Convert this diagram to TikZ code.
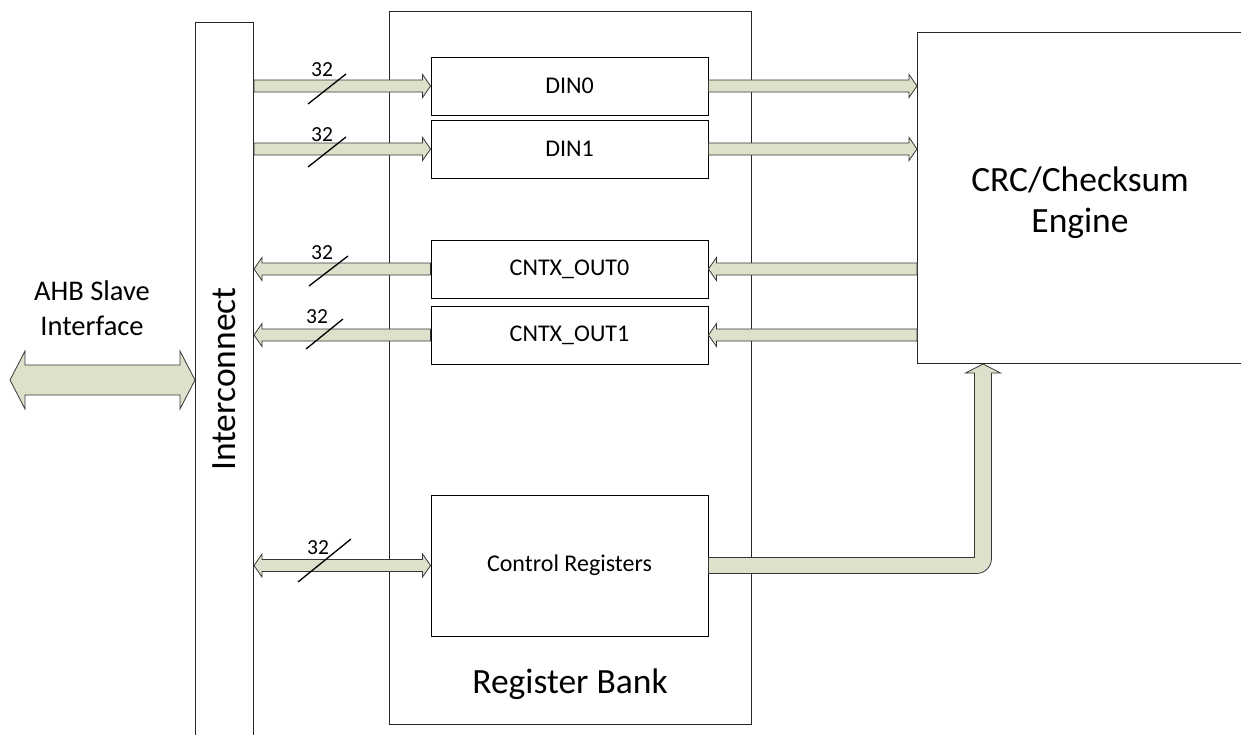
\documentclass[tikz,border=0pt]{standalone}
\usepackage{fontspec}
\setmainfont{Carlito}
\usetikzlibrary{calc}
\definecolor{busfill}{RGB}{221,224,203}
\definecolor{busline}{RGB}{55,55,55}
\tikzset{
  box/.style={draw=black, line width=0.9pt, inner sep=0pt, font=\fontsize{24}{29}\selectfont},
  frame/.style={draw=black!85, line width=1pt, inner sep=0pt},
  bus/.style={draw=busline, fill=busfill, line width=0.8pt, line join=miter},
  slash/.style={draw=black, line width=1.3pt},
  buslabel/.style={font=\fontsize{21.5}{25}\selectfont, inner sep=0pt},
  bigtext/.style={font=\fontsize{35.5}{41}\selectfont, align=center, inner sep=0pt},
}
% #1 tail, #2 tip, #3 half shaft, #4 half head, #5 signed head length
\newcommand\busarrow[5]{%
  \path[bus] let \p1=(#1), \p2=(#2), \n1={#5} in
    (\x1,\y2+#3) -- ({\x2-\n1},\y2+#3) -- ({\x2-\n1},\y2+#4) -- (\x2,\y2)
    -- ({\x2-\n1},\y2-#4) -- ({\x2-\n1},\y2-#3) -- (\x1,\y2-#3) -- cycle;}
% #1 left tip, #2 right tip
\newcommand\busdouble[5]{%
  \path[bus] let \p1=(#1), \p2=(#2) in
    (\x1,\y2) -- (\x1+#5,\y2+#4) -- (\x1+#5,\y2+#3) -- (\x2-#5,\y2+#3)
    -- (\x2-#5,\y2+#4) -- (\x2,\y2) -- (\x2-#5,\y2-#4) -- (\x2-#5,\y2-#3)
    -- (\x1+#5,\y2-#3) -- (\x1+#5,\y2-#4) -- cycle;}
% #1 slash centre, #2 half dx, #3 half dy, #4 label position
\newcommand\busmark[4]{%
  \draw[slash] ($(#1)+(-#2,#3)$) -- ($(#1)+(#2,-#3)$);
  \node[buslabel] at (#4) {32};}
\begin{document}
\begin{tikzpicture}[x=1pt,y=-1pt]
\useasboundingbox (0,0) rectangle (1241,734);
\clip (0,0) rectangle (1241,734);
\fill[white] (0,0) rectangle (1241,734);

% frames
\node[frame, minimum width=58pt, minimum height=740pt, anchor=north west] (ic) at (195,22) {};
\node[rotate=90, font=\fontsize{35.5}{40}\selectfont, inner sep=0pt] (iclabel) at (224,379) {Interconnect};
\node[frame, minimum width=362pt, minimum height=713pt, anchor=north west] (rb) at (389,11) {};
\node[font=\fontsize{35.5}{40}\selectfont, inner sep=0pt, anchor=base] (rblabel) at (570,693) {Register Bank};
\node[frame, minimum width=340pt, minimum height=331pt, anchor=north west] (crc) at (917,32) {};
\node[bigtext] (crclabel) at (1080,203) {CRC/Checksum\\Engine};

% registers
\node[box, minimum width=277pt, minimum height=58pt] (din0) at (569.5,86) {DIN0};
\node[box, minimum width=277pt, minimum height=58pt] (din1) at (569.5,149) {DIN1};
\node[box, minimum width=277pt, minimum height=58pt] (cout0) at (569.5,269) {CNTX\_OUT0};
\node[box, minimum width=277pt, minimum height=58pt] (cout1) at (569.5,335) {CNTX\_OUT1};
\node[box, minimum width=277pt, minimum height=141pt] (ctrl) at (569.5,565.5) {Control Registers};

% AHB interface
\node[font=\fontsize{28.5}{35}\selectfont, align=center, inner sep=0pt] (ahb) at (92,308) {AHB Slave\\Interface};
\coordinate (ahbL) at (10,380);
\busdouble{ahbL}{ic.west |- ahbL}{15pt}{29pt}{15pt}

% buses interconnect <-> register bank
\busarrow{ic.east |- din0.west}{din0.west}{6pt}{11.5pt}{8pt}
\busarrow{ic.east |- din1.west}{din1.west}{6pt}{11.5pt}{8pt}
\busarrow{cout0.west}{ic.east |- cout0.west}{6pt}{11.5pt}{-8pt}
\busarrow{cout1.west}{ic.east |- cout1.west}{6pt}{11.5pt}{-8pt}
\busdouble{ic.east |- ctrl.west}{ctrl.west}{6pt}{11.5pt}{8pt}

% buses register bank <-> engine
\busarrow{din0.east}{crc.west |- din0.east}{6pt}{11.5pt}{8pt}
\busarrow{din1.east}{crc.west |- din1.east}{6pt}{11.5pt}{8pt}
\busarrow{crc.west |- cout0.east}{cout0.east}{6pt}{11.5pt}{-8pt}
\busarrow{crc.west |- cout1.east}{cout1.east}{6pt}{11.5pt}{-8pt}

% control bus to engine (bent)
\coordinate (bend) at (983,565);
\path[bus] let \p1=(ctrl.east), \p2=(bend), \p3=(bend |- crc.south) in
  (\x1,\y1+8pt) -- (\x2-8.5pt,\y1+8pt) -- (\x2-8.5pt,\y3-9pt) -- (\x2-17.5pt,\y3-9pt)
  -- (\x2,\y3) -- (\x2+17.5pt,\y3-9pt) -- (\x2+8.5pt,\y3-9pt)
  [rounded corners=15pt] -- (\x2+8.5pt,\y1-8pt) -- (\x2-40pt,\y1-8pt)
  [sharp corners] -- (\x1,\y1-8pt) -- cycle;

% bus width marks
\coordinate (s0) at (327,89);   \coordinate (l0) at (322,70);
\coordinate (s1) at (327,152);  \coordinate (l1) at (322,135);
\coordinate (s2) at (328.5,271); \coordinate (l2) at (322,253);
\coordinate (s3) at (324.5,334); \coordinate (l3) at (317,317);
\coordinate (s4) at (324.5,560.5); \coordinate (l4) at (318,548);
\busmark{s0}{19}{15}{l0}
\busmark{s1}{19}{15}{l1}
\busmark{s2}{19.5}{15}{l2}
\busmark{s3}{18.5}{15}{l3}
\busmark{s4}{26.5}{21.5}{l4}
\end{tikzpicture}
\end{document}
